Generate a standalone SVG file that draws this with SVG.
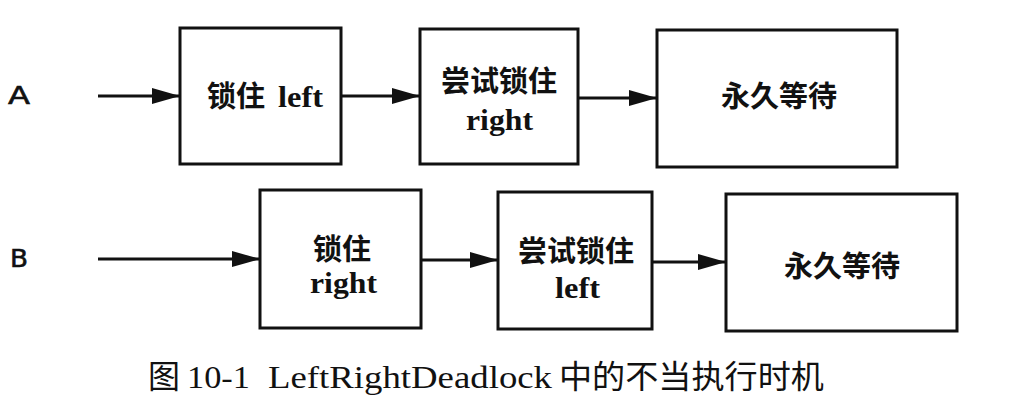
<svg xmlns="http://www.w3.org/2000/svg" width="1034" height="400" viewBox="0 0 1034 400">
<style>
.box{fill:#fff;stroke:#111;stroke-width:3}
.t{font-family:"Liberation Serif","Noto Sans CJK SC",serif;font-weight:bold;font-size:29px;fill:#111;text-anchor:middle}
.l{font-family:"Liberation Serif",serif;font-weight:bold;font-size:30px;fill:#111}
.lab{font-family:"DejaVu Sans","Liberation Sans",sans-serif;font-size:24px;fill:#111;stroke:#111;stroke-width:0.6}
.cap{font-family:"Liberation Serif","Noto Sans CJK SC",serif;font-size:32px;fill:#111}
.c{stroke:#111;stroke-width:3;fill:none;marker-end:url(#ah)}
</style>
<defs>
<marker id="ah" viewBox="0 0 28 16" refX="28" refY="8" markerWidth="28" markerHeight="16" markerUnits="userSpaceOnUse" orient="auto">
<path d="M0,0 L28,8 L0,16 Z" fill="#111"/>
</marker>
</defs>
<rect width="1034" height="400" fill="#fff"/>
<text class="lab" x="8" y="104" textLength="22" lengthAdjust="spacingAndGlyphs">A</text>
<text class="lab" x="10" y="267" textLength="18" lengthAdjust="spacingAndGlyphs">B</text>
<g id="connectors">
<line class="c" x1="98" y1="96" x2="180" y2="96"/>
<line class="c" x1="341" y1="96" x2="420" y2="96"/>
<line class="c" x1="578" y1="98" x2="657" y2="98"/>
<line class="c" x1="98" y1="259" x2="260" y2="259"/>
<line class="c" x1="421" y1="260" x2="498" y2="260"/>
<line class="c" x1="652" y1="262" x2="726" y2="262"/>
</g>
<g id="a1"><rect class="box" x="180" y="28" width="161" height="136"/><text class="t" x="236" y="107">锁住</text><text class="l" x="278" y="107" textLength="45" lengthAdjust="spacingAndGlyphs">left</text></g>
<g id="a2"><rect class="box" x="420" y="29" width="158" height="135"/><text class="t" x="499" y="92">尝试锁住</text><text class="l" x="466" y="130" textLength="67" lengthAdjust="spacingAndGlyphs">right</text></g>
<g id="a3"><rect class="box" x="657" y="30" width="240" height="137"/><text class="t" x="779" y="107">永久等待</text></g>
<g id="b1"><rect class="box" x="260" y="190" width="161" height="138"/><text class="t" x="342" y="260">锁住</text><text class="l" x="310" y="293" textLength="67" lengthAdjust="spacingAndGlyphs">right</text></g>
<g id="b2"><rect class="box" x="498" y="192" width="154" height="137"/><text class="t" x="576" y="262">尝试锁住</text><text class="l" x="555" y="298" textLength="45" lengthAdjust="spacingAndGlyphs">left</text></g>
<g id="b3"><rect class="box" x="726" y="194" width="231" height="137"/><text class="t" x="842" y="277">永久等待</text></g>
<g id="caption">
<text class="cap" x="148" y="388">图</text>
<text class="cap" x="187" y="388" textLength="63" lengthAdjust="spacingAndGlyphs">10-1</text>
<text class="cap" x="268" y="388" textLength="284" lengthAdjust="spacingAndGlyphs">LeftRightDeadlock</text>
<text class="cap" x="559" y="388" textLength="265" lengthAdjust="spacingAndGlyphs">中的不当执行时机</text>
</g>
</svg>
